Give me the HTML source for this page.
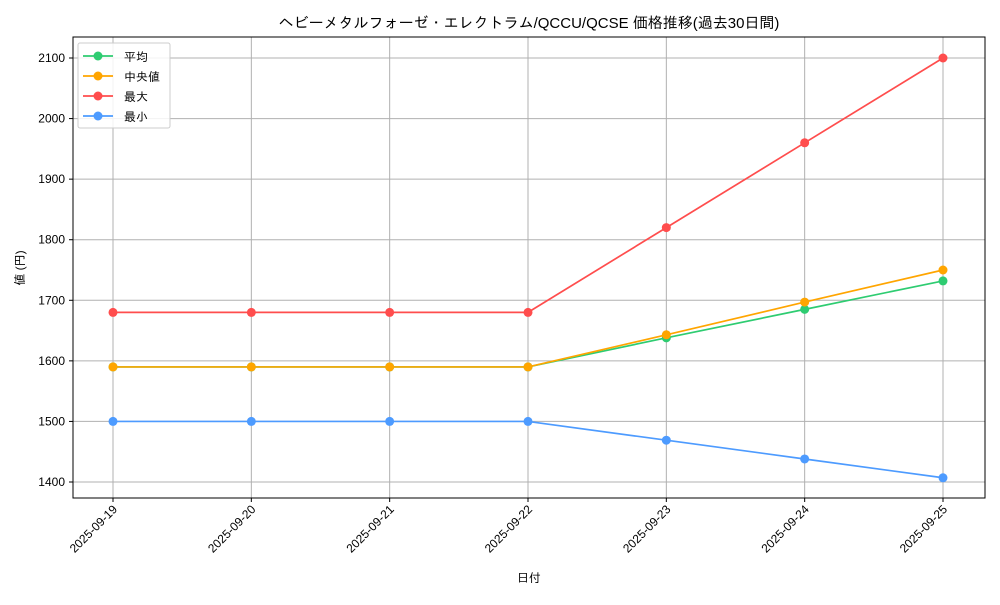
<!DOCTYPE html>
<html><head><meta charset="utf-8">
<style>
body{margin:0;background:#fff;}
svg text{font-family:"Liberation Sans","IPAGothic","Noto Sans CJK JP",sans-serif;fill:#000;}
</style></head>
<body>
<svg id="chart" width="1000" height="600" xmlns="http://www.w3.org/2000/svg">
<rect width="1000" height="600" fill="#fff"/>
<text x="529" y="28" font-size="15" text-anchor="middle">ヘビーメタルフォーゼ・エレクトラム/QCCU/QCSE 価格推移(過去30日間)</text>
<g id="grid"></g>
<g id="series"></g>
<rect x="73" y="37" width="912" height="461" fill="none" stroke="#000" stroke-width="1"/>
<g id="axes"></g>
<text x="529" y="582" font-size="12" text-anchor="middle">日付</text>
<text transform="translate(24,268) rotate(-90)" font-size="12" text-anchor="middle">値 (円)</text>
<g id="legend">
<rect x="78" y="43" width="92" height="85" fill="#fff" fill-opacity="0.85" stroke="#ccc" rx="2"/>
</g>
</svg>
<script>
const categories=["2025-09-19","2025-09-20","2025-09-21","2025-09-22","2025-09-23","2025-09-24","2025-09-25"];
const meanValues=[1590,1590,1590,1590,1638,1685,1732];
const medianValues=[1590,1590,1590,1590,1643,1697,1750];
const maxValues=[1680,1680,1680,1680,1820,1960,2100];
const minValues=[1500,1500,1500,1500,1469,1438,1407];
const yTicks=[1400,1500,1600,1700,1800,1900,2000,2100];
const seriesNames=["平均","中央値","最大","最小"];

const NS="http://www.w3.org/2000/svg";
const x0=113,x1=943,yv0=1400,yp0=482,yv1=2100,yp1=58;
function xs(i){return x0+(x1-x0)*i/(categories.length-1);}
function ys(v){return yp0+(v-yv0)*(yp1-yp0)/(yv1-yv0);}
function mk(tag,attrs,parent){const e=document.createElementNS(NS,tag);for(const k in attrs)e.setAttribute(k,attrs[k]);parent.appendChild(e);return e;}
const grid=document.getElementById('grid'),axes=document.getElementById('axes'),ser=document.getElementById('series'),leg=document.getElementById('legend');
categories.forEach((c,i)=>{
  const x=xs(i);
  const g=mk('line',{x1:x,x2:x,y1:37,y2:498,stroke:'#b0b0b0','stroke-width':1},grid);
  
  
  const t=mk('line',{x1:x,x2:x,y1:498,y2:502,stroke:'#000'},axes);
  
  
  const l=mk('text',{transform:`translate(${x+5},${510}) rotate(-45)`,'font-size':12,'text-anchor':'end'},axes);
  l.textContent=c;
  
  
});
yTicks.forEach(v=>{
  const y=ys(v);
  const g=mk('line',{x1:73,x2:985,y1:y,y2:y,stroke:'#b0b0b0','stroke-width':1},grid);
  
  
  const t=mk('line',{x1:69,x2:73,y1:y,y2:y,stroke:'#000'},axes);
  
  
  const l=mk('text',{x:65,y:y+4,'font-size':12,'text-anchor':'end'},axes);
  l.textContent=v;
  
  
});
const all=[meanValues,medianValues,maxValues,minValues];
const colors=["#2ecc71","#ffa500","#ff4d4d","#4d9bff"];
const keys=["mean","median","max","min"];
all.forEach((vals,s)=>{
  const g=mk('g',{},ser);
  
  
  const pl=mk('polyline',{points:vals.map((v,i)=>xs(i)+','+ys(v)).join(' '),fill:'none',stroke:colors[s],'stroke-width':1.7},g);
  
  
  vals.forEach((v,i)=>{
    const c=mk('circle',{cx:xs(i),cy:ys(v),r:4.5,fill:colors[s]},g);
    
    
  });
  const ly=56+s*20;
  const e=mk('g',{},leg);
  
  
  mk('line',{x1:83,x2:113,y1:ly,y2:ly,stroke:colors[s],'stroke-width':1.7},e);
  mk('circle',{cx:98,cy:ly,r:4.5,fill:colors[s]},e);
  const t=mk('text',{x:124,y:ly+5,'font-size':12},e);
  t.textContent=seriesNames[s];
});
</script>
</body></html>
